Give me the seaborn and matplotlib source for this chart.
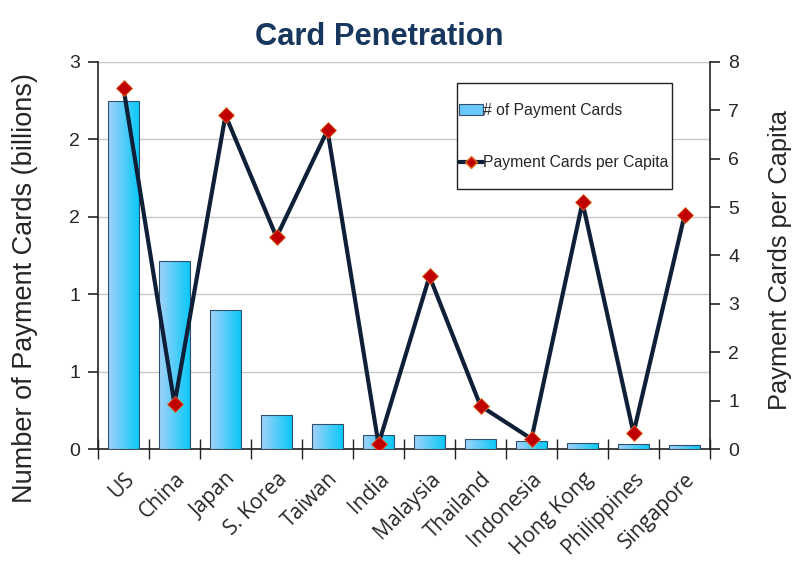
import numpy as np
import pandas as pd
import matplotlib
matplotlib.use("Agg")
import matplotlib.pyplot as plt
import seaborn as sns
from matplotlib.ticker import FixedLocator, FormatStrFormatter
from matplotlib.patches import Patch, Rectangle
from matplotlib.lines import Line2D

countries = ["US", "China", "Japan", "S. Korea", "Taiwan", "India", "Malaysia",
             "Thailand", "Indonesia", "Hong Kong", "Philippines", "Singapore"]
cards_billions = [2.70, 1.46, 1.08, 0.26, 0.19, 0.11, 0.11, 0.075, 0.06, 0.047, 0.04, 0.03]
cards_per_capita = [7.46, 0.93, 6.90, 4.38, 6.59, 0.10, 3.57, 0.89, 0.21, 5.10, 0.33, 4.83]
left_ticks = [0, 0.6, 1.2, 1.8, 2.4, 3.0]
right_ticks = [0, 1, 2, 3, 4, 5, 6, 7, 8]

df = pd.DataFrame({"country": countries, "cards": cards_billions, "per_capita": cards_per_capita})

sns.set_style("white")
plt.rcParams["font.family"] = ["Liberation Sans", "DejaVu Sans"]

W, H = 800, 566
fig = plt.figure(figsize=(8, 5.66), dpi=100)
ax = fig.add_axes([0.1225, 0.2067, 0.765, 0.6838])

sns.barplot(data=df, x="country", y="cards", ax=ax, color="#5cc4f5", width=0.6,
            edgecolor="#2f4f6f", linewidth=0.8, zorder=3)

# gradient fill for bars
grad = np.linspace(0, 1, 64).reshape(1, -1)
cmap = matplotlib.colors.LinearSegmentedColormap.from_list("g", ["#a3d2fa", "#0ac8f8"])
for p in ax.patches:
    x0, y0 = p.get_x(), p.get_y()
    w, h = p.get_width(), p.get_height()
    im = ax.imshow(grad, extent=[x0, x0 + w, y0, y0 + h], cmap=cmap, aspect="auto", zorder=3.5)
    im.set_clip_path(p)
    p.set_zorder(4)
    p.set_facecolor("none")

ax.set_xlim(-0.5, len(countries) - 0.5)
ax.set_ylim(0, 3.0)
ax.yaxis.set_major_locator(FixedLocator(left_ticks))
ax.yaxis.set_major_formatter(FormatStrFormatter("%.0f"))
ax.grid(axis="y", color="#c8c8c8", linewidth=1, zorder=0)
ax.set_axisbelow(True)

for s in ["top", "right"]:
    ax.spines[s].set_visible(False)
for s in ["left", "bottom"]:
    ax.spines[s].set_color("#222222")
    ax.spines[s].set_linewidth(1.2)

ax.tick_params(axis="y", direction="out", length=7, width=1.2, color="#222222",
               labelsize=14, left=True, pad=6)
ax.set_xticks(np.arange(len(countries)))
ax.set_xticklabels(countries, rotation=45, ha="right", rotation_mode="anchor",
                   fontsize=15, family=["Open Sans", "DejaVu Sans"])
ax.tick_params(axis="x", length=0, pad=14)
ax.set_xticks(np.arange(len(countries) + 1) - 0.5, minor=True)
ax.tick_params(axis="x", which="minor", direction="inout", length=14, width=1.0,
               color="#222222", bottom=True)
ax.set_xlabel("")
ax.set_ylabel("Number of Payment Cards (billions)", fontsize=19.5)
ax.yaxis.set_label_coords(-0.098, 0.416)

ax2 = ax.twinx()
sns.lineplot(data=df, x="country", y="per_capita", ax=ax2, color="#0f1f38",
             linewidth=3, marker="D", markersize=8, markerfacecolor="#c00000",
             markeredgecolor="#e07020", markeredgewidth=0.6, zorder=6, sort=False)
ax2.set_ylim(0, 8)
ax2.set_xlim(-0.5, len(countries) - 0.5)
ax2.yaxis.set_major_locator(FixedLocator(right_ticks))
for s in ["top", "left", "bottom"]:
    ax2.spines[s].set_visible(False)
ax2.spines["right"].set_color("#222222")
ax2.spines["right"].set_linewidth(1.2)
ax2.tick_params(axis="y", direction="out", length=7, width=1.2, color="#222222",
                labelsize=14, right=True, pad=6)
ax2.set_ylabel("Payment Cards per Capita", fontsize=18.3)
ax2.yaxis.set_label_coords(1.095, 0.488)

# legend (frameless) plus a separate box
handles = [Patch(facecolor="#6cc8f8", edgecolor="#2f4f6f", linewidth=0.8),
           Line2D([0], [0], color="#0f1f38", linewidth=3, marker="D", markersize=6,
                  markerfacecolor="#c00000", markeredgecolor="#e07020")]
leg = fig.legend(handles, ["# of Payment Cards", "Payment Cards per Capita"],
                 loc="center left", bbox_to_anchor=(459 / W, 1 - 136.5 / H),
                 frameon=False, fontsize=11.3, labelspacing=2.4, handlelength=1.5,
                 handletextpad=0.05, borderpad=0, borderaxespad=0)
leg.set_zorder(10)
fig.patches.append(Rectangle((457 / W, 1 - 189 / H), (672 - 457) / W, (189 - 83) / H,
                             transform=fig.transFigure, facecolor="white",
                             edgecolor="#222222", linewidth=1.0, zorder=9))

fig.text(0.474, 0.935, "Card Penetration", ha="center", va="center",
         fontsize=22.2, fontweight="bold", color="#17375e")

fig.savefig("out.png", dpi=100)
